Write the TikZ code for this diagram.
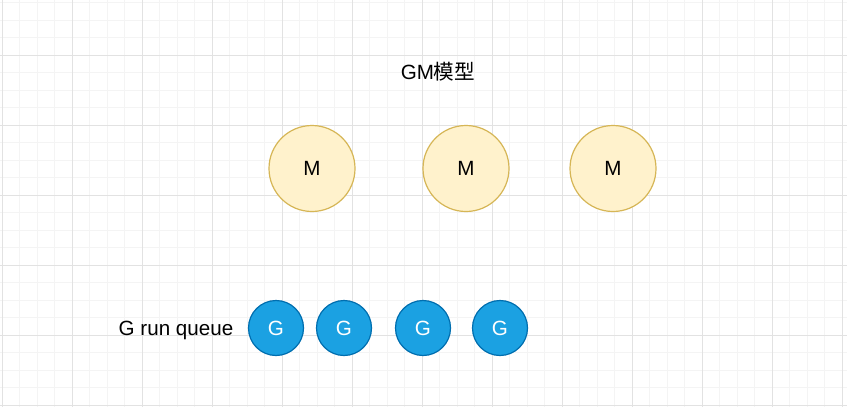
\documentclass[tikz,border=0pt]{standalone}
\usepackage{fontspec}
\setmainfont{Liberation Sans}
\newfontfamily\cjk{Noto Sans CJK SC}
\definecolor{gridmajor}{HTML}{E2E2E2}
\definecolor{gridminor}{HTML}{F4F4F4}
\definecolor{mfill}{HTML}{FFF2CC}
\definecolor{mdraw}{HTML}{D6B656}
\definecolor{gfill}{HTML}{1BA1E2}
\definecolor{gdraw}{HTML}{006EAF}
\begin{document}
\begin{tikzpicture}[x=1pt, y=-1pt,
	minor/.style={gridminor, line width=0.8pt},
	major/.style={gridmajor, line width=0.9pt},
	label/.style={font=\fontsize{20.6}{24}\selectfont},
	mproc/.style={circle, draw=mdraw, fill=mfill, line width=1.2pt, minimum size=86pt, inner sep=0pt, label},
	gorou/.style={circle, draw=gdraw, fill=gfill, line width=1.2pt, minimum size=55pt, inner sep=0pt, text=white, label}]
	\useasboundingbox[fill=white] (0,0) rectangle (847,407);

	% grid
	\foreach \i in {0,...,48}
		\draw[minor] ({2+17.5*\i},0) -- ++(0,407);
	\foreach \i in {0,...,23}
		\draw[minor] (0,{2.5+17.5*\i}) -- ++(847,0);
	\foreach \i in {0,...,12}
		\draw[major] ({2+70*\i},0) -- ++(0,407);
	\foreach \i in {1,...,6}
		\draw[major] (0,{-15+70*\i}) -- ++(847,0);

	\node[label] (title) at (438,72) {GM{\cjk 模型}};

	\node[mproc] (m1) at (312,168.5) {M};
	\node[mproc] (m2) at (466,168.5) {M};
	\node[mproc] (m3) at (613,168.5) {M};

	\node[label] (queue) at (176,330) {G run queue};
	\node[gorou] (g1) at (276,328) {G};
	\node[gorou] (g2) at (344,328) {G};
	\node[gorou] (g3) at (423,328) {G};
	\node[gorou] (g4) at (500,328) {G};
\end{tikzpicture}
\end{document}
